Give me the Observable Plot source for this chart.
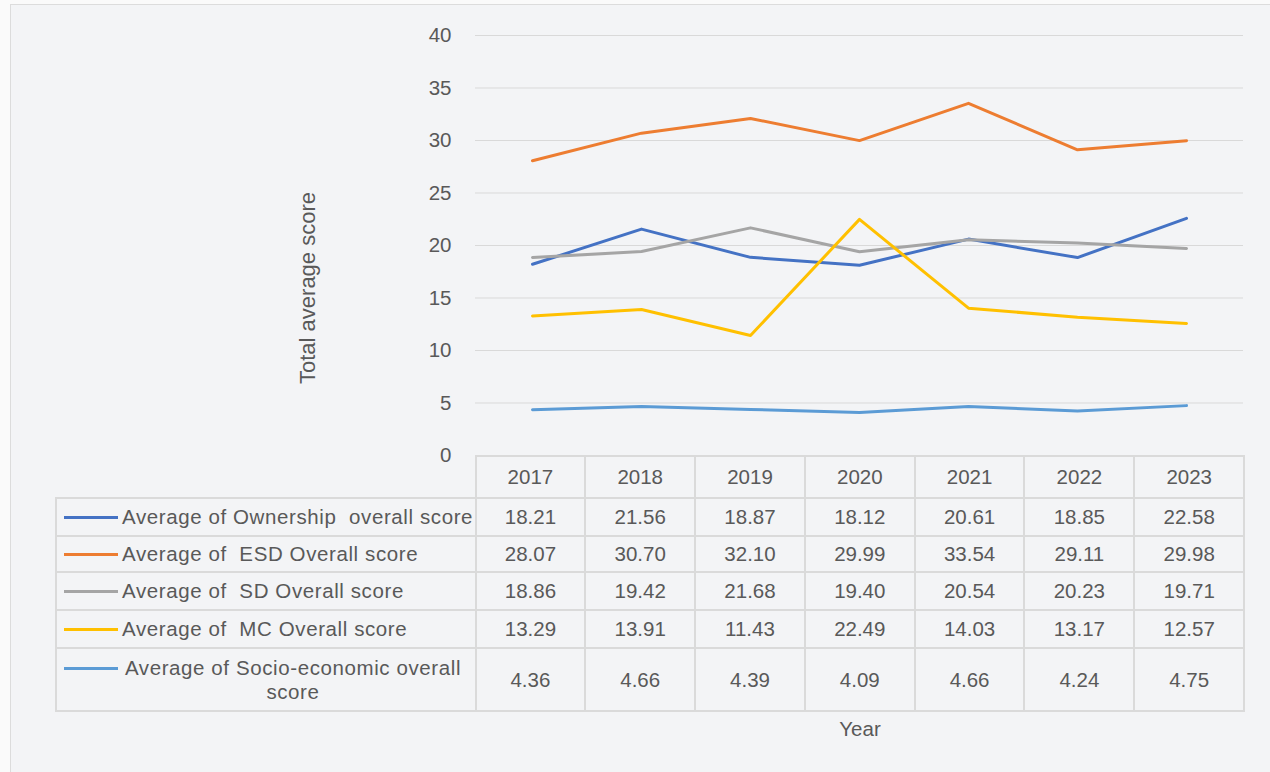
<!DOCTYPE html>
<html>
<head>
<meta charset="utf-8">
<script src="https://cdn.jsdelivr.net/npm/d3@7"></script>
<script src="https://cdn.jsdelivr.net/npm/@observablehq/plot@0.6"></script>
<style>
  html, body { margin: 0; padding: 0; background: #fafafa; }
  body { width: 1270px; height: 772px; overflow: hidden; position: relative;
         font-family: "Liberation Sans", Arial, sans-serif; color: #595959; }
  #frame { position: absolute; left: 10px; top: 4px; width: 1280px; height: 800px;
           background: #f3f4f6; border: 1.5px solid #dcdcdc; box-sizing: border-box; }
  #chart { position: absolute; left: 0; top: 0; }
  #ylabel { position: absolute; left: 308px; top: 288px; transform: translate(-50%, -50%) rotate(-90deg);
            font-size: 22px; white-space: nowrap; }
  #xlabel { position: absolute; left: 860px; top: 729px; transform: translate(-50%, -50%);
            font-size: 20.5px; }
  table { position: absolute; left: 55px; top: 455px; border-collapse: collapse; table-layout: fixed;
          font-size: 20.5px; color: #595959; }
  td { border: 2px solid #dadada; text-align: center; vertical-align: middle; padding: 0; }
  td.blank { border: none; }
  .leg { display: flex; align-items: flex-start; padding-left: 7px; }
  .key { width: 54px; height: 24px; position: relative; flex: none; }
  .key::after { content: ""; position: absolute; left: 0; right: 0; top: 11px; height: 3px; background: var(--c); }
  .name { margin-left: 4px; text-align: center; line-height: 24px; letter-spacing: 0.6px; max-width: 342px; }
</style>
</head>
<body>
<div id="frame"></div>
<div id="chart"></div>
<div id="ylabel">Total average score</div>
<div id="xlabel">Year</div>
<table id="tbl"></table>
<script>
const years = ["2017", "2018", "2019", "2020", "2021", "2022", "2023"];
const seriesNames = [
  "Average of Ownership  overall score",
  "Average of  ESD Overall score",
  "Average of  SD Overall score",
  "Average of  MC Overall score",
  "Average of Socio-economic overall score"
];
const colors = ["#4472C4", "#ED7D31", "#A5A5A5", "#FFC000", "#5B9BD5"];
const ownership = [18.21, 21.56, 18.87, 18.12, 20.61, 18.85, 22.58];
const esd       = [28.07, 30.70, 32.10, 29.99, 33.54, 29.11, 29.98];
const sd        = [18.86, 19.42, 21.68, 19.40, 20.54, 20.23, 19.71];
const mc        = [13.29, 13.91, 11.43, 22.49, 14.03, 13.17, 12.57];
const socio     = [4.36, 4.66, 4.39, 4.09, 4.66, 4.24, 4.75];
const yTicks = [0, 5, 10, 15, 20, 25, 30, 35, 40];

const seriesValues = [ownership, esd, sd, mc, socio];
const data = [];
seriesNames.forEach((s, i) => years.forEach((y, j) => data.push({series: s, year: y, value: seriesValues[i][j]})));

const chart = Plot.plot({
  width: 1270, height: 475,
  marginLeft: 475, marginRight: 27, marginTop: 35, marginBottom: 20,
  style: {background: "transparent", fontFamily: "'Liberation Sans', Arial, sans-serif", fontSize: "20.5px", color: "#595959"},
  x: {type: "point", domain: years, padding: 0.5, axis: null},
  y: {domain: [0, 40]},
  color: {domain: seriesNames, range: colors},
  marks: [
    Plot.gridY(yTicks.filter(d => d > 0), {stroke: "#d9d9d9", strokeOpacity: 1, strokeWidth: 1}),
    Plot.axisY(yTicks, {tickSize: 0, tickPadding: 24, label: null, fontSize: 20.5, fill: "#595959"}),
    Plot.line(data, {x: "year", y: "value", stroke: "series", z: "series", strokeWidth: 3, strokeLinejoin: "round", strokeLinecap: "round"})
  ]
});
document.getElementById("chart").appendChild(chart);

// Data table
const tbl = document.getElementById("tbl");
const colgroup = document.createElement("colgroup");
const c0 = document.createElement("col"); c0.style.width = "419.5px"; colgroup.appendChild(c0);
years.forEach(() => { const c = document.createElement("col"); c.style.width = "109.8px"; colgroup.appendChild(c); });
tbl.appendChild(colgroup);
const rowHeights = [42, 38, 36, 38, 38, 63];
const hr = document.createElement("tr"); hr.style.height = rowHeights[0] + "px";
const blank = document.createElement("td"); blank.className = "blank"; hr.appendChild(blank);
years.forEach(y => { const td = document.createElement("td"); td.textContent = y; hr.appendChild(td); });
tbl.appendChild(hr);
seriesNames.forEach((s, i) => {
  const tr = document.createElement("tr"); tr.style.height = rowHeights[i + 1] + "px";
  const td = document.createElement("td");
  td.style.textAlign = "left";
  const leg = document.createElement("div"); leg.className = "leg";
  const key = document.createElement("div"); key.className = "key"; key.style.setProperty("--c", colors[i]);
  const nm = document.createElement("div"); nm.className = "name"; nm.textContent = s;
  nm.style.whiteSpace = i === seriesNames.length - 1 ? "pre-wrap" : "pre";
  leg.appendChild(key); leg.appendChild(nm); td.appendChild(leg); tr.appendChild(td);
  seriesValues[i].forEach(v => { const c = document.createElement("td"); c.textContent = v.toFixed(2); tr.appendChild(c); });
  tbl.appendChild(tr);
});
</script>
</body>
</html>
